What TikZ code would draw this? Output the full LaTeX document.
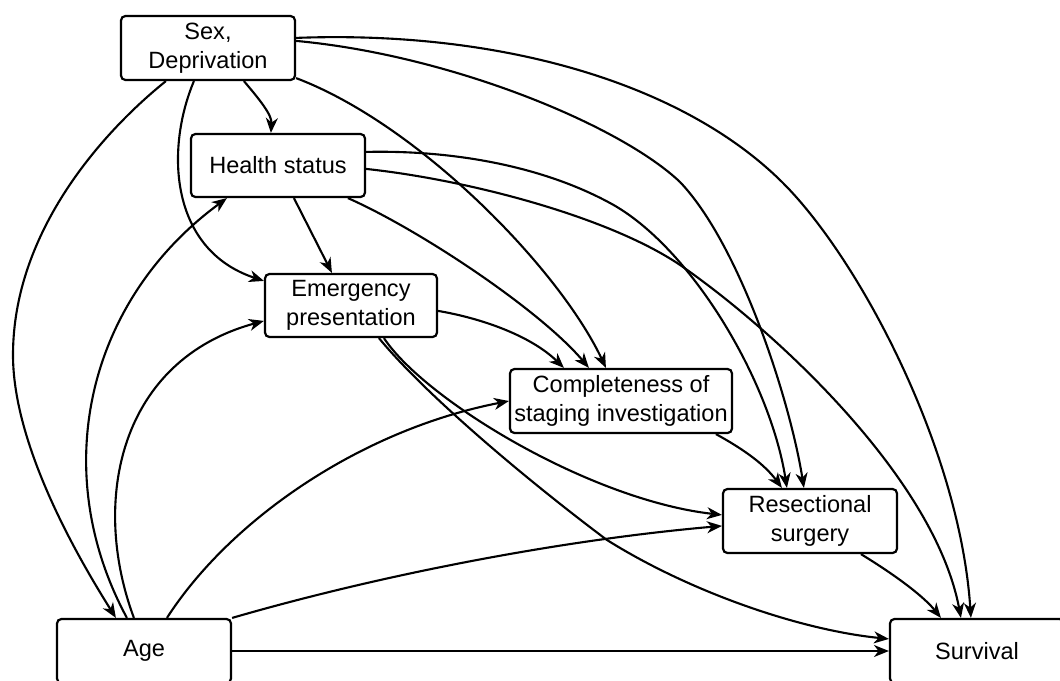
\documentclass[tikz,border=0pt]{standalone}
\usepackage{fontspec}
\setmainfont{Liberation Sans}
\usetikzlibrary{arrows.meta,calc}
\begin{document}
\begin{tikzpicture}[x=0.02cm,y=-0.02cm,
  box/.style={draw, line width=1.25pt, rounded corners=2.5pt, align=center, inner sep=0pt,
    font=\fontsize{13.4}{16.5}\selectfont},
  arr/.style={-{Stealth[length=8.5pt,width=6.8pt,inset=2.6pt]}, line width=1.2pt}]
\useasboundingbox (0,0) rectangle (1060,680);
\fill[white] (0,0) rectangle (1060,680);
\clip (0,0) rectangle (1060,680);
% nodes
\node[box, minimum width=3.48cm, minimum height=1.28cm] (sex) at (208,48) {Sex,\\Deprivation};
\node[box, minimum width=3.48cm, minimum height=1.26cm] (health) at (278,165.5) {Health status};
\node[box, minimum width=3.44cm, minimum height=1.26cm] (emerg) at (351,305.5) {Emergency\\presentation};
\node[box, minimum width=4.44cm, minimum height=1.28cm] (comp) at (621,401) {Completeness of\\staging investigation};
\node[box, minimum width=3.48cm, minimum height=1.28cm] (resect) at (810,521) {Resectional\\surgery};
\node[box, minimum width=3.48cm, minimum height=1.28cm] (age) at (144,651) {Age};
\node[box, minimum width=3.48cm, minimum height=1.28cm] (surv) at (977,651) {Survival};
% connectors from Sex, Deprivation
\draw[arr] ($(sex.south west)+(124,0)$) .. controls (260,100) and (272,115) .. ($(health.north west)+(81,0)$);
\draw[arr] ($(sex.south west)+(74,0)$) .. controls (165,150) and (170,250) .. ($(emerg.north west)+(0,8)$);
\draw[arr] ($(sex.south west)+(46,0)$) .. controls (105,130) and (13,230) .. (13,355)
   .. controls (13,440) and (70,545) .. ($(age.north west)+(60,0)$);
\draw[arr] ($(sex.south east)+(0,-3)$) .. controls (420,125) and (560,270) .. ($(comp.north west)+(97,0)$);
\draw[arr] ($(sex.north east)+(0,26)$) .. controls (450,55) and (620,125) .. (680,182)
   .. controls (740,245) and (790,400) .. ($(resect.north west)+(82,0)$);
\draw[arr] ($(sex.north east)+(0,23)$) .. controls (500,30) and (683,83) .. (783,183)
   .. controls (860,260) and (960,450) .. ($(surv.north west)+(82,0)$);
% connectors from Health status
\draw[arr] ($(health.south west)+(104,0)$) -- ($(emerg.north west)+(68,0)$);
\draw[arr] ($(health.south west)+(158,0)$) .. controls (420,230) and (540,310) .. ($(comp.north west)+(80,0)$);
\draw[arr] ($(health.north east)+(0,19)$) .. controls (450,150) and (540,165) .. (610,203)
   .. controls (690,246) and (770,380) .. ($(resect.north west)+(65,0)$);
\draw[arr] ($(health.north east)+(0,36)$) .. controls (470,180) and (613,218) .. (683,267)
   .. controls (780,335) and (935,480) .. ($(surv.north west)+(72,0)$);
% connectors from Emergency presentation
\draw[arr] ($(emerg.north east)+(0,38)$) .. controls (480,318) and (530,335) .. ($(comp.north west)+(55,0)$);
\draw[arr] ($(emerg.south west)+(120,0)$) .. controls (425,400) and (590,500) .. ($(resect.north west)+(0,27)$);
\draw[arr] ($(emerg.south west)+(115,0)$) .. controls (430,400) and (540,490) .. (607,540)
   .. controls (690,592) and (800,630) .. ($(surv.north west)+(0,21)$);
% other connectors
\draw[arr] ($(comp.south west)+(207,0)$) .. controls (745,450) and (765,465) .. ($(resect.north west)+(60,0)$);
\draw[arr] ($(resect.south west)+(139,0)$) .. controls (900,578) and (925,598) .. ($(surv.north west)+(52,0)$);
% connectors from Age
\draw[arr] (age.east) -- (surv.west);
\draw[arr] (age.north east) .. controls (380,575) and (560,540) .. ($(resect.north west)+(0,38)$);
\draw[arr] ($(age.north west)+(111,0)$) .. controls (230,520) and (360,430) .. (comp.west);
\draw[arr] ($(age.north west)+(78,0)$) .. controls (90,500) and (120,360) .. ($(emerg.north west)+(0,48)$);
\draw[arr] ($(age.north west)+(71,0)$) .. controls (47,470) and (88,300) .. ($(health.south west)+(37,0)$);
\end{tikzpicture}
\end{document}
